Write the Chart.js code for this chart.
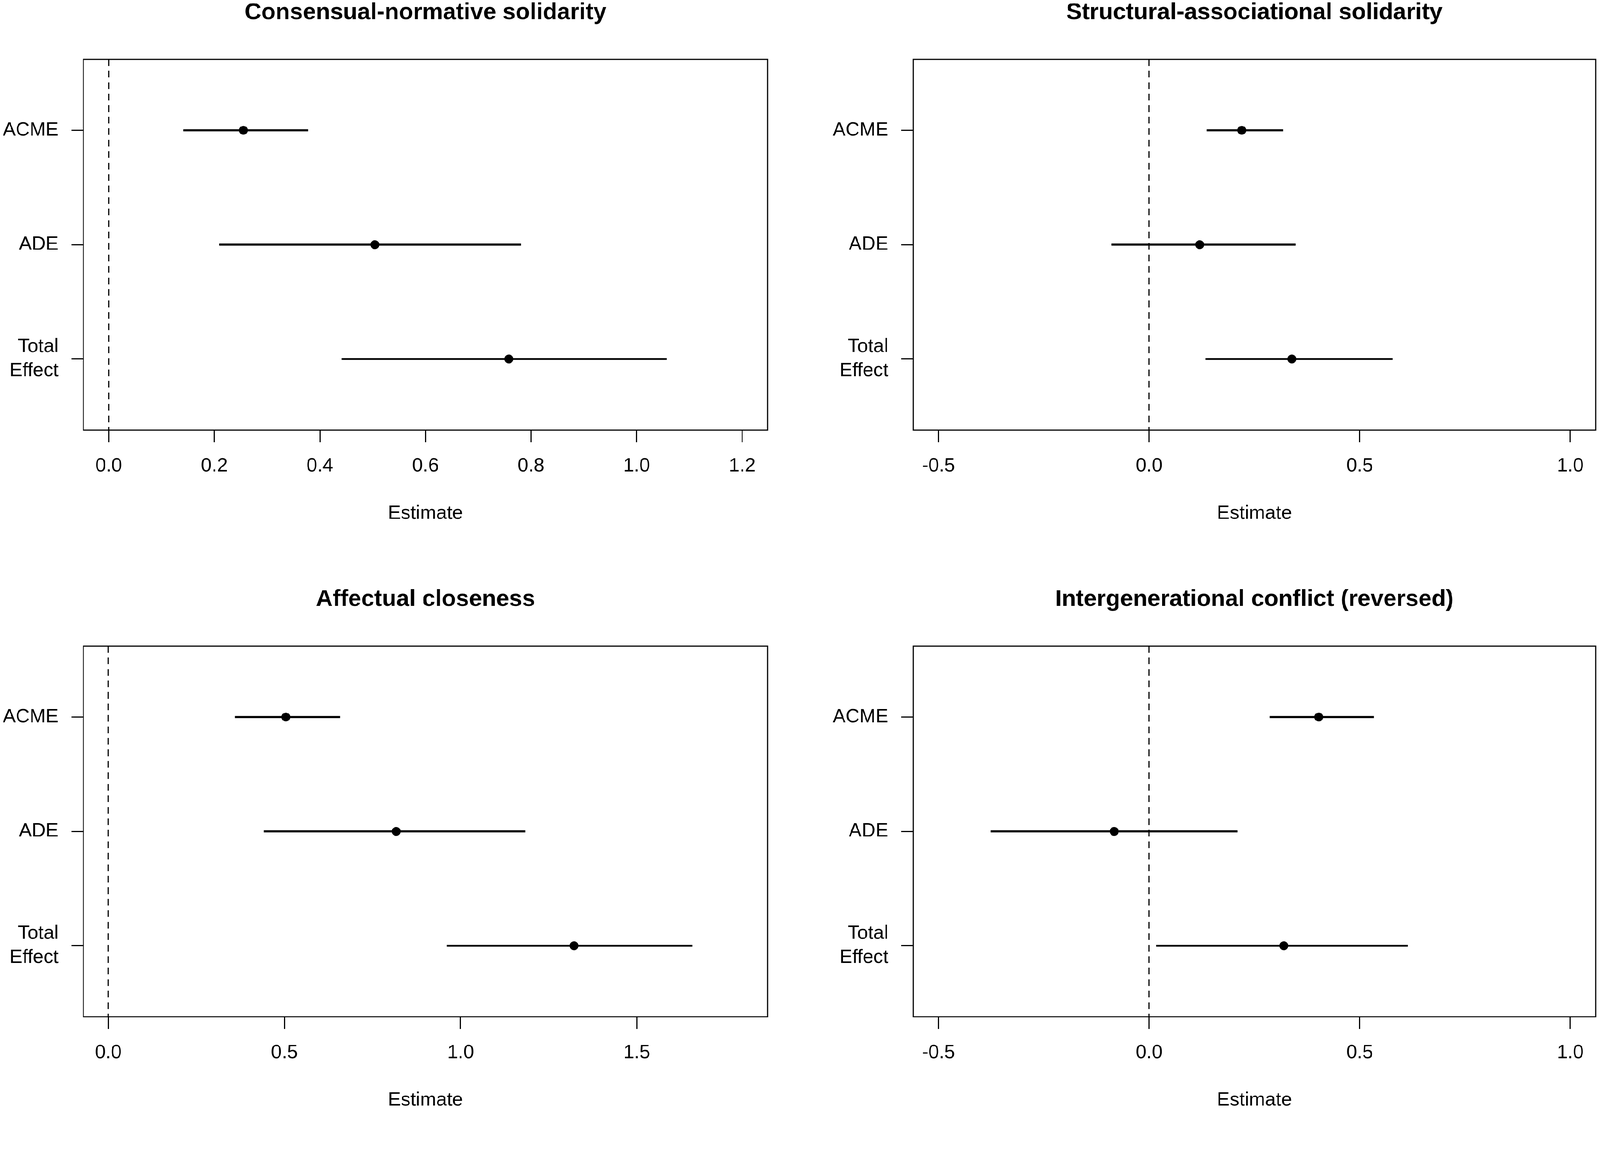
<!DOCTYPE html>
<html>
<head>
<meta charset="utf-8">
<script src="https://cdn.jsdelivr.net/npm/chart.js@4/dist/chart.umd.min.js"></script>
<style>
html, body { margin: 0; padding: 0; background: #fff; overflow: hidden; width: 100%; height: 100%; }
#stage { position: absolute; left: 0; top: 0; width: 4317px; height: 2995px; transform-origin: 0 0; background: #fff; }
canvas { position: absolute; }
</style>
</head>
<body>
<div id="stage">
<canvas id="c0"></canvas>
<canvas id="c1"></canvas>
<canvas id="c2"></canvas>
<canvas id="c3"></canvas>
</div>
<script>
// ---------------- data ----------------
const categories = ["ACME", "ADE", "Total\nEffect"];
const panelTitles = [
  "Consensual-normative solidarity",
  "Structural-associational solidarity",
  "Affectual closeness",
  "Intergenerational conflict (reversed)"
];
const xAxisTitle = "Estimate";

const estConsensual = [0.255, 0.504, 0.758];
const lowConsensual = [0.141, 0.209, 0.441];
const highConsensual = [0.378, 0.781, 1.057];

const estStructural = [0.220, 0.120, 0.339];
const lowStructural = [0.137, -0.089, 0.134];
const highStructural = [0.318, 0.348, 0.578];

const estAffectual = [0.504, 0.817, 1.322];
const lowAffectual = [0.359, 0.441, 0.961];
const highAffectual = [0.658, 1.184, 1.658];

const estConflict = [0.403, -0.083, 0.320];
const lowConflict = [0.286, -0.376, 0.017];
const highConflict = [0.534, 0.210, 0.614];

const xTicksConsensual = [0.0, 0.2, 0.4, 0.6, 0.8, 1.0, 1.2];
const xTicksStructural = [-0.5, 0.0, 0.5, 1.0];
const xTicksAffectual = [0.0, 0.5, 1.0, 1.5];
const xTicksConflict = [-0.5, 0.0, 0.5, 1.0];

const xRangeConsensual = [-0.048, 1.248];
const xRangeStructural = [-0.56, 1.06];
const xRangeAffectual = [-0.0705, 1.871];
const xRangeConflict = [-0.56, 1.06];

const yRange = [0.379, 3.621];
const referenceValue = 0;

// ---------------- layout scaling to the actual viewport width ----------------
const PAGE_W = 4317, PAGE_H = 2995;
const vw = window.innerWidth || document.documentElement.clientWidth || PAGE_W;
const s = vw / PAGE_W;
document.getElementById('stage').style.transform = 'scale(' + s + ')';

// ---------------- rendering ----------------
const FONT = '"Liberation Sans", Arial, Helvetica, sans-serif';

const panels = [
  { id: 'c0', title: panelTitles[0], est: estConsensual, low: lowConsensual, high: highConsensual, ticks: xTicksConsensual, range: xRangeConsensual, left: 0, top: 0, width: 2158, padRight: 87 },
  { id: 'c1', title: panelTitles[1], est: estStructural, low: lowStructural, high: highStructural, ticks: xTicksStructural, range: xRangeStructural, left: 2239, top: 0, width: 2078, padRight: 7 },
  { id: 'c2', title: panelTitles[2], est: estAffectual, low: lowAffectual, high: highAffectual, ticks: xTicksAffectual, range: xRangeAffectual, left: 0, top: 1583, width: 2158, padRight: 87 },
  { id: 'c3', title: panelTitles[3], est: estConflict, low: lowConflict, high: highConflict, ticks: xTicksConflict, range: xRangeConflict, left: 2239, top: 1583, width: 2078, padRight: 7 }
];

const PANEL_H = 1412;
const AREA_TOP = 160;
const AREA_BOTTOM = 1160;

const boxPlugin = {
  id: 'boxPlugin',
  afterDatasetsDraw(chart) {
    const { ctx, chartArea: a } = chart;
    ctx.save();
    ctx.strokeStyle = '#000';
    ctx.lineWidth = 3;
    ctx.strokeRect(a.left, a.top, a.right - a.left, a.bottom - a.top);
    ctx.restore();
  }
};

const titlePlugin = {
  id: 'panelTitle',
  afterDraw(chart, args, opts) {
    const { ctx, chartArea: a } = chart;
    ctx.save();
    ctx.font = 'bold 63px ' + FONT;
    ctx.fillStyle = '#000';
    ctx.textAlign = 'center';
    ctx.textBaseline = 'middle';
    ctx.fillText(opts.text, (a.left + a.right) / 2, opts.y);
    ctx.restore();
  }
};

panels.forEach(p => {
  const cv = document.getElementById(p.id);
  cv.width = p.width;
  cv.height = PANEL_H;
  cv.style.left = p.left + 'px';
  cv.style.top = p.top + 'px';
  cv.style.width = p.width + 'px';
  cv.style.height = PANEL_H + 'px';

  const datasets = [];
  // estimate points
  datasets.push({
    data: p.est.map((v, i) => ({ x: v, y: i + 1 })),
    pointRadius: 12,
    pointBackgroundColor: '#000',
    pointBorderWidth: 0,
    showLine: false,
    order: 0
  });
  // confidence intervals
  p.est.forEach((v, i) => {
    datasets.push({
      data: [{ x: p.low[i], y: i + 1 }, { x: p.high[i], y: i + 1 }],
      showLine: true,
      borderColor: '#000',
      borderWidth: 5.5,
      pointRadius: 0,
      order: 1
    });
  });
  // reference line at zero
  datasets.push({
    data: [{ x: referenceValue, y: yRange[0] }, { x: referenceValue, y: yRange[1] }],
    showLine: true,
    borderColor: '#000',
    borderWidth: 3,
    borderDash: [18, 13],
    pointRadius: 0,
    order: 2
  });

  new Chart(cv, {
    type: 'scatter',
    data: { datasets },
    options: {
      responsive: false,
      animation: false,
      devicePixelRatio: 1,
      events: [],
      layout: { padding: { top: AREA_TOP, right: p.padRight, left: 0, bottom: 0 } },
      plugins: {
        legend: { display: false },
        tooltip: { enabled: false },
        title: { display: false },
        panelTitle: { text: p.title, y: 35 }
      },
      scales: {
        x: {
          type: 'linear',
          position: 'bottom',
          min: p.range[0],
          max: p.range[1],
          afterBuildTicks: sc => { sc.ticks = p.ticks.map(v => ({ value: v })); },
          afterFit: sc => { sc.height = PANEL_H - AREA_BOTTOM; },
          border: { display: false },
          grid: { display: true, drawOnChartArea: false, drawTicks: true, tickLength: 33, tickWidth: 3, tickColor: '#000' },
          ticks: {
            color: '#000',
            padding: 33,
            maxRotation: 0,
            autoSkip: false,
            font: { family: FONT, size: 52, lineHeight: 1.2 },
            callback: v => Number(v).toFixed(1)
          },
          title: {
            display: true,
            text: xAxisTitle,
            color: '#000',
            padding: { top: 0, bottom: 0 },
            font: { family: FONT, size: 52, lineHeight: 1 }
          }
        },
        y: {
          type: 'linear',
          position: 'left',
          reverse: true,
          min: yRange[0],
          max: yRange[1],
          afterBuildTicks: sc => { sc.ticks = categories.map((c, i) => ({ value: i + 1 })); },
          afterFit: sc => { sc.width = 225; },
          border: { display: false },
          grid: { display: true, drawOnChartArea: false, drawTicks: true, tickLength: 32, tickWidth: 3, tickColor: '#000' },
          ticks: {
            color: '#000',
            padding: 35,
            autoSkip: false,
            font: { family: FONT, size: 52, lineHeight: 1.25 },
            callback: v => {
              const c = categories[Math.round(v) - 1];
              return c ? c.split('\n') : '';
            }
          }
        }
      }
    },
    plugins: [boxPlugin, titlePlugin]
  });
});
</script>
</body>
</html>
